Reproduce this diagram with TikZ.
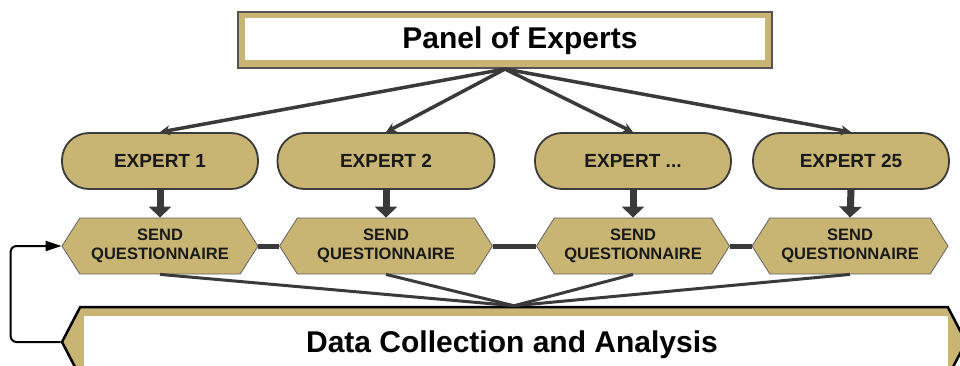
\documentclass[tikz,border=0pt]{standalone}
\usepackage{fontspec}
\setmainfont{Liberation Sans}
\usepackage{xcolor}
\usepackage{tikz}
\usetikzlibrary{shapes.symbols, arrows.meta}
\definecolor{panelTan}{HTML}{C8B473}
\definecolor{edgeDark}{HTML}{3A3A3A}
\definecolor{frameGray}{HTML}{555555}
\tikzset{
    box_panel_tan/.style={
        rectangle, draw=frameGray, line width=2pt, fill=panelTan,
        minimum width=534pt, minimum height=56pt, inner sep=0pt
    },
    box_white/.style={
        rectangle, fill=white, inner sep=0pt
    },
    big_text/.style={
        inner sep=0pt, font=\fontsize{30}{32}\selectfont\bfseries, text=black
    },
    box_expert/.style={
        rectangle, rounded corners=27pt, draw=edgeDark, line width=1.8pt, fill=panelTan,
        minimum width=196pt, minimum height=56pt, inner sep=0pt,
        align=center, font=\fontsize{19}{21}\selectfont\bfseries, text=black!90
    },
    box_send/.style={
        signal, signal to=east and west, signal pointer angle=115,
        draw=edgeDark!80, line width=0.8pt, fill=panelTan,
        minimum width=196pt, minimum height=56pt, inner sep=0pt,
        align=center, font=\fontsize{16.5}{19}\selectfont\bfseries, text=black!90
    },
    box_data/.style={
        signal, signal to=east and west, signal pointer angle=125,
        draw=black, line width=2.5pt, fill=panelTan,
        minimum width=904pt, minimum height=70pt, inner sep=0pt
    },
    fan_arrow/.style={
        -{Stealth[length=10pt, width=10pt]}, draw=edgeDark, line width=3.5pt
    },
    drop_arrow/.style={
        -{Triangle[length=11pt, width=22pt]}, draw=edgeDark, line width=7pt
    },
    link_bar/.style={
        draw=edgeDark, line width=5pt
    },
    merge_line/.style={
        draw=edgeDark, line width=3pt
    },
    loop_arrow/.style={
        -{Triangle[length=16pt, width=10pt]}, draw=black, line width=2pt, rounded corners=6pt
    }
}
\begin{document}
\begin{tikzpicture}[x=1pt, y=-1pt]
    \clip (0, 0) rectangle (960, 365);

    % Top: panel of experts
    \node[box_panel_tan] (panel) at (505, 40) {};
    \node[box_white, minimum width=520pt, minimum height=42pt] (panelin) at (505, 39) {};
    \node[big_text] (paneltext) at (520, 41) {Panel of Experts};

    % Row of experts
    \node[box_expert] (e1) at (160, 161) {EXPERT 1};
    \node[box_expert, minimum width=217pt] (e2) at (386, 161) {EXPERT 2};
    \node[box_expert] (e3) at (633, 161) {EXPERT ...};
    \node[box_expert] (e4) at (851, 161) {EXPERT 25};

    % Row of questionnaires
    \node[box_send] (q1) at (160, 246) {SEND\\QUESTIONNAIRE};
    \node[box_send, minimum width=213pt] (q2) at (386, 246) {SEND\\QUESTIONNAIRE};
    \node[box_send, minimum width=193pt] (q3) at (633, 246) {SEND\\QUESTIONNAIRE};
    \node[box_send] (q4) at (850, 246) {SEND\\QUESTIONNAIRE};

    % Bottom: data collection
    \node[box_data] (data) at (514, 342) {};
    \node[box_white, minimum width=864pt, minimum height=60pt] (datain) at (516, 346) {};
    \node[big_text] (datatext) at (512, 345) {Data Collection and Analysis};

    % Panel fans out to every expert
    \foreach \e in {e1, e2, e3, e4}
        \draw[fan_arrow] (panel.south) -- (\e.north);

    % Expert sends questionnaire
    \foreach \e/\q in {e1/q1, e2/q2, e3/q3, e4/q4}
        \draw[drop_arrow] (\e.south) -- (\q.north);

    % Links between questionnaires
    \draw[link_bar] (q1.east) -- (q2.west);
    \draw[link_bar] (q2.east) -- (q3.west);
    \draw[link_bar] (q3.east) -- (q4.west);

    % Answers merge into data collection
    \foreach \q in {q1, q2, q3, q4}
        \draw[merge_line] (\q.south) -- (data.north);

    % Feedback loop to next round
    \draw[loop_arrow] (data.west) -- ++(-50, 0) |- (q1.west);
\end{tikzpicture}
\end{document}
